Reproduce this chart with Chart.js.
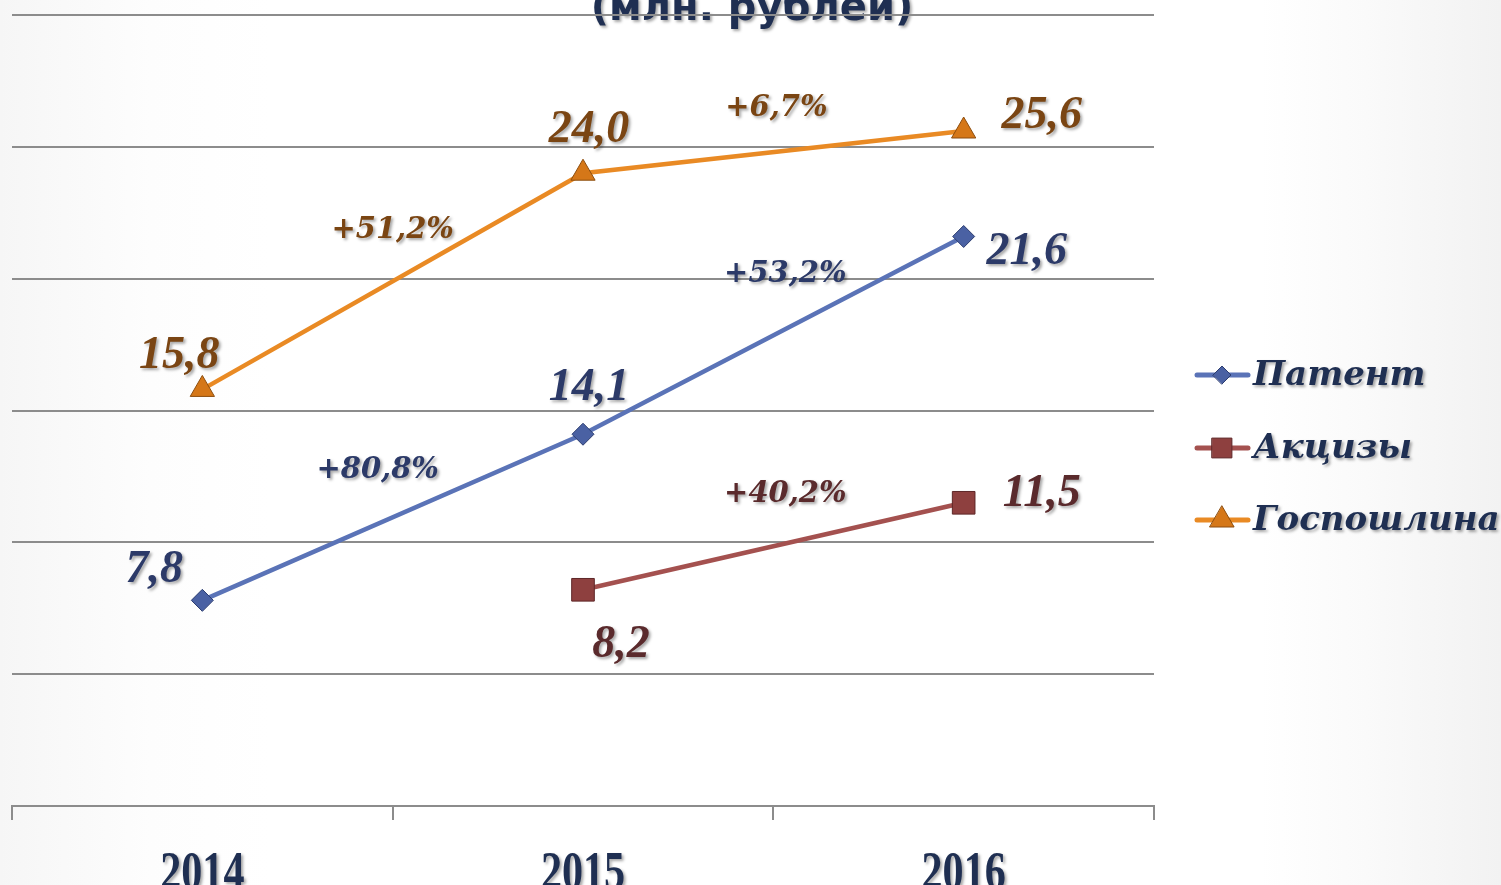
<!DOCTYPE html>
<html>
<head>
<meta charset="utf-8">
<title>Поступления</title>
<script src="https://cdn.jsdelivr.net/npm/chart.js@4.4.1/dist/chart.umd.min.js"></script>
<style>
  html, body { margin: 0; padding: 0; }
  body {
    width: 1501px;
    height: 885px;
    overflow: hidden;
    background: linear-gradient(to right, #f6f6f6 0%, #fdfdfd 10%, #ffffff 18%, #ffffff 84%, #fafafa 91%, #f2f2f2 100%);
  }
  canvas { display: block; }
</style>
</head>
<body>
<canvas id="lineChart" width="1501" height="885"></canvas>
<script>
// Data
const years = ["2014", "2015", "2016"];
const seriesNames = ["Патент", "Акцизы", "Госпошлина"];
const patent = [7.8, 14.1, 21.6];
const excise = [null, 8.2, 11.5];
const stateDuty = [15.8, 24.0, 25.6];
const patentGrowth = [null, "+80,8%", "+53,2%"];
const exciseGrowth = [null, null, "+40,2%"];
const stateDutyGrowth = [null, "+51,2%", "+6,7%"];
const yTicks = [0, 5, 10, 15, 20, 25, 30];
const titleText = "(млн. рублей)";

// label placement (pixels from the point / segment middle)
const labelStyle = [
  { color: "#2c3a68", values: [[-48, -30], [6, -46], [63, 16]], growth: [null, [-15, -47], [12, -61]] },
  { color: "#5a2a2c", values: [null, [38, 55], [78, -9]], growth: [null, null, [12, -52]] },
  { color: "#7a4513", values: [[-23, -33], [6, -43], [78, -15]], growth: [null, [0, -51], [3, -44]] },
];

function fmt(v) {
  return v.toFixed(1).replace(".", ",");
}

function withShadow(ctx) {
  ctx.shadowColor = "rgba(0,0,0,0.35)";
  ctx.shadowOffsetX = 2;
  ctx.shadowOffsetY = 2;
  ctx.shadowBlur = 3;
}

const titlePlugin = {
  id: "cutTitle",
  beforeDraw(chart) {
    const ctx = chart.ctx;
    ctx.save();
    withShadow(ctx);
    ctx.fillStyle = "#1f2f52";
    ctx.font = "bold 40px 'DejaVu Sans'";
    ctx.textAlign = "center";
    ctx.textBaseline = "alphabetic";
    ctx.fillText(titleText, 752, 20);
    ctx.restore();
  },
};

const labelPlugin = {
  id: "pointLabels",
  afterDatasetsDraw(chart) {
    const ctx = chart.ctx;
    const growth = [patentGrowth, exciseGrowth, stateDutyGrowth];
    ctx.save();
    withShadow(ctx);
    ctx.textAlign = "center";
    ctx.textBaseline = "middle";
    chart.data.datasets.forEach((ds, i) => {
      const meta = chart.getDatasetMeta(i);
      const st = labelStyle[i];
      ctx.fillStyle = st.color;
      ctx.font = "bold italic 46px 'Liberation Serif'";
      ds.data.forEach((v, j) => {
        if (v == null || !st.values[j]) return;
        const pt = meta.data[j];
        ctx.fillText(fmt(v), pt.x + st.values[j][0], pt.y + st.values[j][1]);
      });
      ctx.font = "bold italic 29px 'DejaVu Serif'";
      growth[i].forEach((g, j) => {
        if (!g || !st.growth[j]) return;
        const a = meta.data[j - 1];
        const b = meta.data[j];
        const mx = (a.x + b.x) / 2;
        const my = (a.y + b.y) / 2;
        ctx.fillText(g, mx + st.growth[j][0], my + st.growth[j][1]);
      });
    });
    ctx.restore();
  },
};

const yearPlugin = {
  id: "yearLabels",
  afterDraw(chart) {
    const ctx = chart.ctx;
    const xs = chart.scales.x;
    ctx.save();
    withShadow(ctx);
    ctx.fillStyle = "#1f2f52";
    ctx.font = "bold 54px 'Liberation Serif'";
    ctx.textAlign = "center";
    ctx.textBaseline = "alphabetic";
    years.forEach((y, i) => {
      const x = xs.getPixelForValue(i);
      ctx.save();
      ctx.translate(x, 889);
      ctx.scale(0.78, 1);
      ctx.fillText(y, 0, 0);
      ctx.restore();
    });
    ctx.restore();
  },
};

const legendPlugin = {
  id: "sideLegend",
  afterDraw(chart) {
    const ctx = chart.ctx;
    const rows = [375, 448, 520];
    const sizes = [9, 14, 14];
    chart.data.datasets.forEach((ds, i) => {
      const y = rows[i];
      ctx.save();
      ctx.strokeStyle = ds.borderColor;
      ctx.lineWidth = 5;
      ctx.lineCap = "round";
      ctx.beginPath();
      ctx.moveTo(1197, y);
      ctx.lineTo(1248, y);
      ctx.stroke();
      ctx.fillStyle = ds.pointBackgroundColor;
      ctx.strokeStyle = ds.pointBorderColor;
      ctx.lineWidth = 1;
      Chart.helpers.drawPoint(ctx, { pointStyle: ds.pointStyle, radius: sizes[i], rotation: 0, borderWidth: 1 }, 1222, y);
      withShadow(ctx);
      ctx.fillStyle = "#1f2f52";
      ctx.font = "bold italic 34px 'DejaVu Serif'";
      ctx.textAlign = "left";
      ctx.textBaseline = "middle";
      ctx.fillText(ds.label, 1253, y + 1);
      ctx.restore();
    });
  },
};

const ctx = document.getElementById("lineChart").getContext("2d");
new Chart(ctx, {
  type: "line",
  data: {
    labels: years,
    datasets: [
      {
        label: seriesNames[0],
        data: patent,
        borderColor: "#5a73b7",
        borderWidth: 4.5,
        pointStyle: "rectRot",
        pointRadius: 11,
        pointBackgroundColor: "#4a61a3",
        pointBorderColor: "#2c3d70",
        pointBorderWidth: 1,
      },
      {
        label: seriesNames[1],
        data: excise,
        borderColor: "#a4514f",
        borderWidth: 4.5,
        pointStyle: "rect",
        pointRadius: 16,
        pointBackgroundColor: "#8e403f",
        pointBorderColor: "#5e2728",
        pointBorderWidth: 1,
      },
      {
        label: seriesNames[2],
        data: stateDuty,
        borderColor: "#e98a24",
        borderWidth: 4.5,
        pointStyle: "triangle",
        pointRadius: 14,
        pointBackgroundColor: "#d57718",
        pointBorderColor: "#8c4d0e",
        pointBorderWidth: 1,
      },
    ],
  },
  options: {
    responsive: false,
    animation: false,
    events: [],
    layout: {
      autoPadding: false,
      padding: { left: 12, right: 347, top: 15, bottom: 65 },
    },
    plugins: {
      legend: { display: false },
      title: { display: false },
      tooltip: { enabled: false },
    },
    elements: {
      line: { tension: 0 },
    },
    scales: {
      x: {
        offset: true,
        grid: {
          offset: true,
          drawOnChartArea: false,
          drawTicks: true,
          tickLength: 14,
          color: "#8c8c8c",
          lineWidth: 2,
        },
        border: { display: true, color: "#8c8c8c", width: 2 },
        ticks: { display: false },
      },
      y: {
        min: yTicks[0],
        max: yTicks[yTicks.length - 1],
        afterBuildTicks: (axis) => {
          axis.ticks = yTicks.map((v) => ({ value: v }));
        },
        grid: { color: "#8c8c8c", lineWidth: 2, drawTicks: false },
        border: { display: false },
        ticks: { display: false },
      },
    },
  },
  plugins: [titlePlugin, labelPlugin, yearPlugin, legendPlugin],
});
</script>
</body>
</html>
